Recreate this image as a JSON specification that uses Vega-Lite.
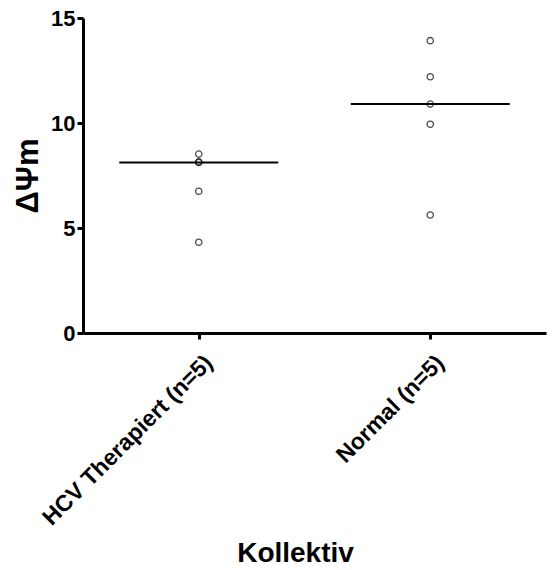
{
  "$schema": "https://vega.github.io/schema/vega-lite/v6.json",
  "autosize": "none",
  "width": 463,
  "height": 315,
  "padding": {"left": 83, "top": 18, "right": 11, "bottom": 237},
  "background": "white",
  "config": {
    "view": {"stroke": null},
    "font": "Liberation Sans",
    "axis": {
      "grid": false,
      "domainColor": "black",
      "domainWidth": 3,
      "tickColor": "black",
      "tickWidth": 3,
      "tickSize": 6,
      "labelColor": "black",
      "labelFont": "Liberation Sans",
      "labelFontWeight": "bold",
      "labelFontSize": 22,
      "titleFont": "Liberation Sans",
      "titleFontWeight": "bold",
      "titleColor": "black"
    }
  },
  "data": {
    "values": [
      {"group": "HCV Therapiert (n=5)", "value": 8.52},
      {"group": "HCV Therapiert (n=5)", "value": 8.15},
      {"group": "HCV Therapiert (n=5)", "value": 8.12},
      {"group": "HCV Therapiert (n=5)", "value": 6.75},
      {"group": "HCV Therapiert (n=5)", "value": 4.32},
      {"group": "Normal (n=5)", "value": 13.92},
      {"group": "Normal (n=5)", "value": 12.2},
      {"group": "Normal (n=5)", "value": 10.9},
      {"group": "Normal (n=5)", "value": 9.94},
      {"group": "Normal (n=5)", "value": 5.62}
    ]
  },
  "encoding": {
    "x": {
      "field": "group",
      "type": "nominal",
      "sort": null,
      "scale": {"type": "point", "padding": 0.5},
      "axis": {
        "title": "Kollektiv",
        "titleFontSize": 28,
        "titleX": 212,
        "titleY": 228,
        "titleBaseline": "alphabetic",
        "titleAlign": "center",
        "labelAngle": -45,
        "labelAlign": "right",
        "labelBaseline": "top",
        "labelOffset": 2,
        "labelPadding": 12,
        "labelFontSize": 23,
        "labelLimit": 0
      }
    }
  },
  "layer": [
    {
      "mark": {"type": "point", "shape": "circle", "filled": false, "color": "black", "size": 40, "strokeWidth": 1.3},
      "encoding": {
        "y": {
          "field": "value",
          "type": "quantitative",
          "scale": {"domain": [0, 15], "nice": false},
          "axis": {
            "title": "ΔΨm",
            "titleFontSize": 31,
            "titlePadding": 6,
            "values": [0, 5, 10, 15],
            "labelPadding": 2
          }
        }
      }
    },
    {
      "mark": {"type": "tick", "orient": "horizontal", "color": "black", "size": 159, "thickness": 2},
      "encoding": {
        "y": {"field": "value", "type": "quantitative", "aggregate": "median"}
      }
    }
  ]
}
